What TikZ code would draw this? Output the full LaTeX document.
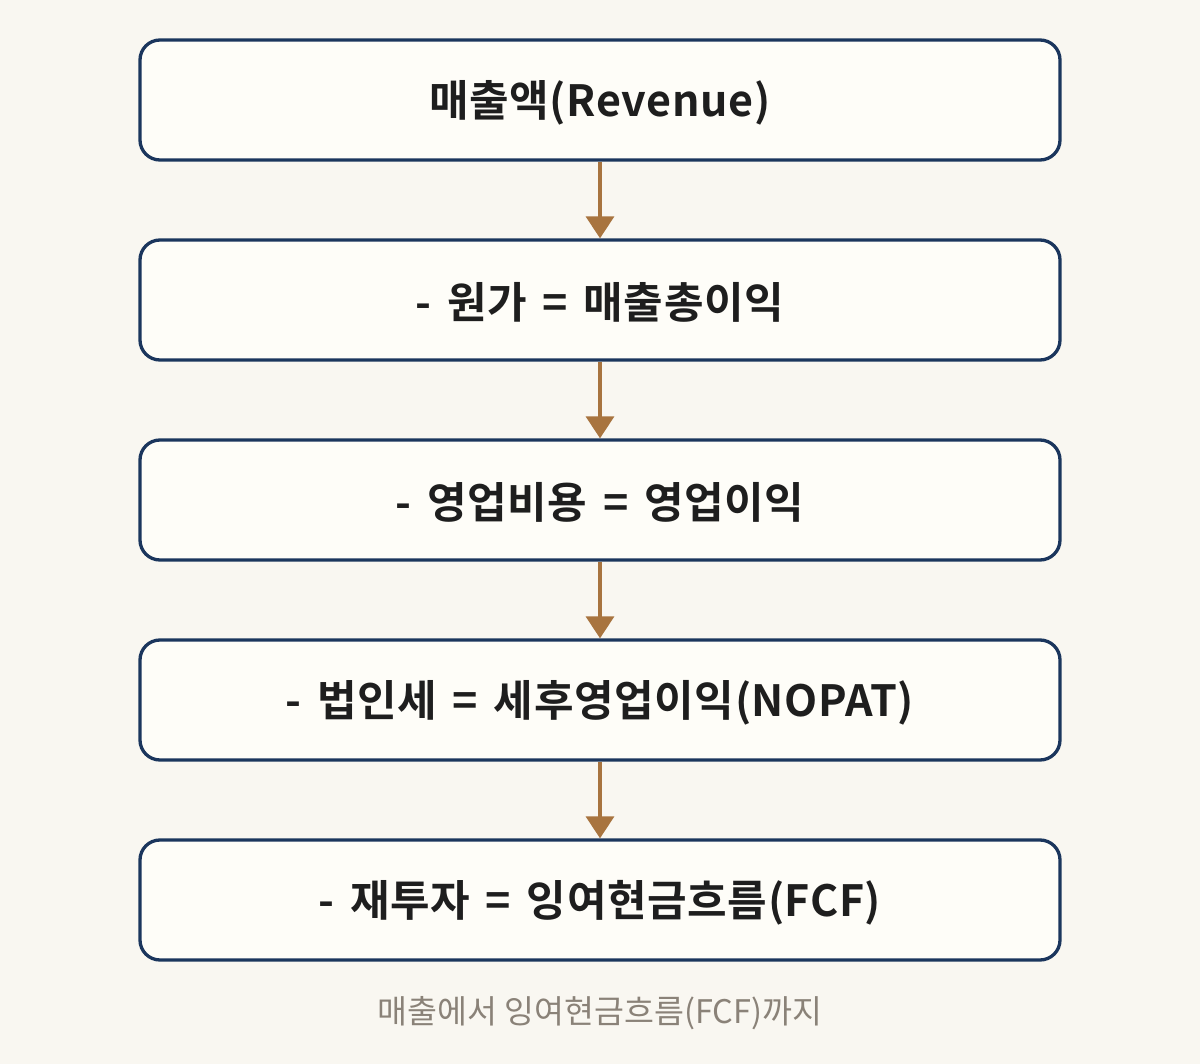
\documentclass[tikz,border=0pt]{standalone}
\usepackage{fontspec}
\setmainfont{Noto Sans CJK KR}
\newfontfamily\boldkr[WordSpace=1.5,LetterSpace=1.5]{Noto Sans CJK KR Bold}
\usetikzlibrary{arrows.meta}
\definecolor{bgc}{HTML}{F9F7F1}
\definecolor{boxfill}{HTML}{FEFDF8}
\definecolor{boxline}{HTML}{1B365D}
\definecolor{arrowc}{HTML}{A8743F}
\definecolor{textc}{HTML}{1E1E1E}
\definecolor{capc}{HTML}{8A8278}
\newcommand\lowertxt[1]{\raisebox{0pt}[\dimexpr\height+5pt\relax][\depth]{#1}}
\tikzset{
  stepbox/.style={draw=boxline, fill=boxfill, line width=3.3pt, rounded corners=20pt,
    minimum width=920pt, minimum height=120pt, inner sep=0pt,
    text=textc, font=\boldkr\fontsize{43}{50}\selectfont},
  flowarrow/.style={draw=arrowc, line width=3.5pt, -{Triangle[length=22pt,width=28pt]}},
  captiontext/.style={text=capc, font=\fontsize{32.5}{38}\selectfont, inner sep=0pt}
}
\begin{document}
\begin{tikzpicture}[x=1pt,y=-1pt]
\fill[bgc] (0,0) rectangle (1200,1064);
\useasboundingbox (0,0) rectangle (1200,1064);
\node[stepbox] (b1) at (600,100) {\lowertxt{매출액(Revenue)}};
\node[stepbox] (b2) at (600,300) {\lowertxt{- 원가 = 매출총이익}};
\node[stepbox] (b3) at (600,500) {\lowertxt{- 영업비용 = 영업이익}};
\node[stepbox] (b4) at (600,700) {\lowertxt{- 법인세 = 세후영업이익(NOPAT)}};
\node[stepbox] (b5) at (600,900) {\lowertxt{- 재투자 = 잉여현금흐름(FCF)}};
\node[captiontext] (cap) at (600,1013) {매출에서 잉여현금흐름(FCF)까지};
\draw[flowarrow] (b1.south) -- (b2.north);
\draw[flowarrow] (b2.south) -- (b3.north);
\draw[flowarrow] (b3.south) -- (b4.north);
\draw[flowarrow] (b4.south) -- (b5.north);
\end{tikzpicture}
\end{document}
